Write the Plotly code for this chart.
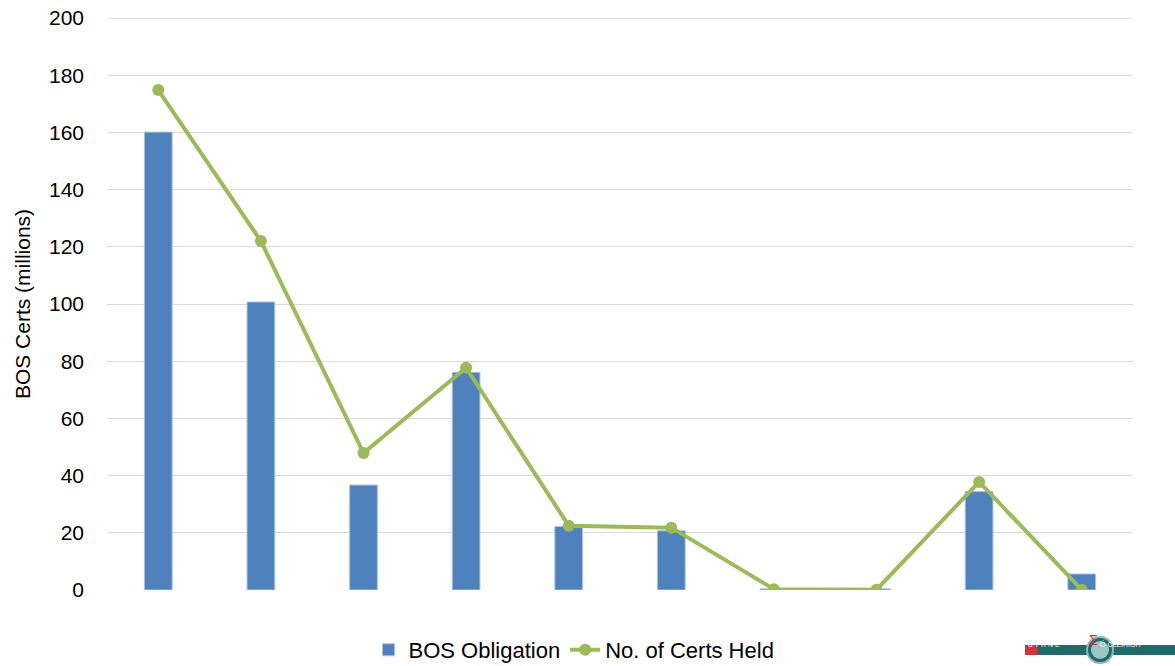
import plotly.graph_objects as go

categories = [1, 2, 3, 4, 5, 6, 7, 8, 9, 10]
bos_obligation = [160.1, 100.7, 36.7, 76.1, 22.2, 20.7, 0.4, 0.4, 34.4, 5.6]
certs_held = [174.8, 122.0, 47.9, 77.7, 22.5, 21.8, 0.3, 0.1, 37.8, 0.1]
y_ticks = [0, 20, 40, 60, 80, 100, 120, 140, 160, 180, 200]

W, H = 1175, 666
L, R, T, B = 107, 42, 18, 76

def px(x):
    return (x - L) / (W - L - R)

def py(y):
    return (H - B - y) / (H - T - B)

fig = go.Figure()
fig.add_trace(go.Bar(
    x=categories, y=bos_obligation, name="BOS Obligation",
    marker=dict(color="#4F81BD", line=dict(color="#A9C1E0", width=1)),
    width=0.27,
))
fig.add_trace(go.Scatter(
    x=categories, y=certs_held, name="No. of Certs Held",
    mode="lines+markers",
    line=dict(color="#9BBB59", width=4),
    marker=dict(color="#9BBB59", size=12),
))

font = "Liberation Sans, Arial, sans-serif"
fig.update_layout(
    width=W, height=H,
    margin=dict(l=L, r=R, t=T, b=B, autoexpand=False),
    paper_bgcolor="white", plot_bgcolor="white",
    font=dict(family=font, size=21, color="#000000"),
    showlegend=True,
    legend=dict(orientation="h", x=574 / W, xanchor="center", xref="container",
                y=1 - 650 / H, yanchor="middle", yref="container",
                font=dict(size=22), tracegroupgap=0),
    xaxis=dict(range=[0.5, 10.5], showticklabels=False, showgrid=False,
               zeroline=False, showline=False, ticks=""),
    yaxis=dict(range=[0, 200], tickvals=y_ticks, showgrid=True,
               gridcolor="#D9D9D9", gridwidth=1.3, zeroline=False,
               ticks="", ticklabelstandoff=22,
               title=dict(text="BOS Certs (millions)", font=dict(size=21), standoff=12)),
    bargap=0.73,
)

# top gridline (plotly omits the gridline at the range edge)
shapes = [
    dict(type="line", xref="paper", yref="y", x0=0, x1=1,
         y0=y_ticks[-1], y1=y_ticks[-1], line=dict(color="#D9D9D9", width=1.3), layer="below"),
]
# approximate logo
shapes += [
    dict(type="rect", xref="paper", yref="paper", x0=px(1025), x1=px(1037),
         y0=py(655), y1=py(645), fillcolor="#D0343A", line=dict(width=0)),
    dict(type="rect", xref="paper", yref="paper", x0=px(1037), x1=px(1175),
         y0=py(655), y1=py(645), fillcolor="#1E6B6A", line=dict(width=0)),
    dict(type="circle", xref="paper", yref="paper", x0=px(1087), x1=px(1113),
         y0=py(663), y1=py(637), fillcolor="#1E6B6A", line=dict(color="#8FB8B5", width=2)),
    dict(type="circle", xref="paper", yref="paper", x0=px(1091), x1=px(1109),
         y0=py(659), y1=py(641), fillcolor="#9CC6C3", line=dict(width=0)),
]
fig.update_layout(shapes=shapes)
fig.add_annotation(xref="paper", yref="paper", x=px(1062), y=py(650), text="B Y R N E",
                   showarrow=False, font=dict(size=7, color="white"))
fig.add_annotation(xref="paper", yref="paper", x=px(1142), y=py(650), text="Ó CLÉIRIGH",
                   showarrow=False, font=dict(size=7, color="white"))
fig.add_annotation(xref="paper", yref="paper", x=px(1100), y=py(650), text="Σ",
                   showarrow=False, font=dict(size=14, color="#D0343A"))

fig.write_html("out.html")
